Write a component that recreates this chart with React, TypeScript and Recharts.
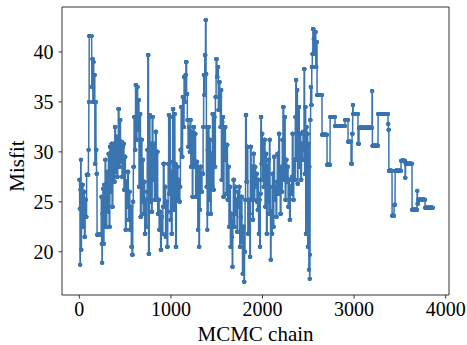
import { LineChart, Line, XAxis, YAxis, ReferenceArea } from 'recharts';

// accepted states of the chain: [iteration where the state starts, misfit]
const chainSteps: [number, number][] = [
  [0, 27.2], [4, 24.3], [8, 18.7], [12, 26.2], [16, 29.2], [20, 20.2], [24, 24.7], [28, 23.5],
  [32, 26.7], [40, 22.5], [48, 26.0], [56, 21.5], [64, 25.2], [72, 23.5], [80, 27.7],
  [100, 30.2], [104, 35.0], [108, 41.6], [136, 36.5], [142, 39.3], [148, 35.0],
  [152, 39.0], [158, 35.0], [164, 37.7], [170, 28.8], [176, 35.0], [182, 30.2], [188, 27.8], [194, 21.7],
  [240, 25.5], [244, 20.8], [248, 18.9],
  [252, 23.8], [258, 26.3], [264, 20.8], [270, 26.7], [276, 22.5],
  [282, 29.2], [288, 25.2], [294, 22.5], [300, 28.0], [306, 24.0], [312, 27.2],
  [318, 29.8], [326, 22.5], [334, 30.5], [342, 26.0], [350, 30.8], [358, 24.5], [366, 28.0],
  [372, 30.8], [380, 27.0], [388, 32.5], [396, 28.0], [404, 31.5], [412, 27.5], [420, 29.5],
  [426, 34.3], [434, 28.5], [442, 33.2], [450, 29.0], [458, 31.0], [466, 27.5], [474, 30.5],
  [480, 30.8], [488, 26.2], [496, 29.5], [504, 22.2], [512, 27.0], [520, 24.5], [528, 28.0],
  [536, 23.2], [544, 26.0], [552, 22.2], [560, 24.5], [568, 20.5], [576, 19.7], [584, 25.0],
  [590, 28.5], [598, 33.5], [606, 30.2], [614, 36.7], [622, 31.2], [630, 36.5], [638, 32.2],
  [644, 35.2], [652, 26.5], [660, 33.8], [668, 23.5], [676, 31.2], [684, 25.0],
  [690, 29.2], [698, 23.8], [706, 27.0], [714, 21.8], [722, 25.2], [730, 22.5], [738, 26.0],
  [742, 30.2], [748, 39.7], [756, 19.8], [764, 33.7], [772, 25.0],
  [780, 30.8], [788, 24.0], [796, 33.5], [804, 27.2], [812, 30.8], [820, 25.2], [826, 29.0],
  [832, 32.0], [840, 25.2], [848, 30.0], [856, 23.8],
  [864, 25.2], [872, 22.2], [880, 24.0], [888, 20.2], [896, 23.5], [904, 21.8], [912, 24.5],
  [918, 28.8], [926, 24.5], [934, 26.5], [942, 21.5], [950, 25.0], [958, 20.5], [966, 24.0],
  [970, 28.8], [976, 33.7], [982, 25.8], [988, 33.5], [994, 23.2], [1000, 28.0], [1006, 21.8],
  [1014, 29.0], [1020, 34.3], [1028, 24.2], [1036, 33.8], [1044, 28.8], [1052, 20.5], [1060, 27.0],
  [1068, 28.5], [1076, 25.2], [1084, 27.2], [1092, 25.0], [1098, 26.5],
  [1104, 30.2], [1112, 34.5], [1120, 29.5], [1128, 35.5], [1136, 32.5], [1144, 37.5], [1152, 35.0],
  [1158, 37.7], [1164, 39.0], [1172, 35.8], [1180, 33.2], [1188, 30.5], [1196, 32.5], [1204, 30.0],
  [1210, 33.2], [1218, 28.5], [1226, 32.0], [1234, 25.5], [1240, 29.0],
  [1246, 32.5], [1254, 28.5], [1262, 31.8], [1270, 25.5], [1278, 29.0],
  [1288, 26.5], [1294, 22.2], [1300, 28.5], [1306, 20.5], [1312, 24.2],
  [1320, 28.5], [1330, 26.0], [1340, 27.8],
  [1352, 32.5], [1358, 37.7], [1364, 35.7], [1370, 39.7], [1378, 43.2], [1384, 37.8],
  [1388, 26.5], [1392, 32.5], [1396, 22.2], [1400, 30.2], [1404, 23.8],
  [1408, 32.5], [1416, 25.2], [1424, 31.2], [1432, 23.8], [1440, 29.8], [1448, 26.5],
  [1454, 33.8], [1462, 26.2], [1470, 33.5], [1478, 28.5],
  [1486, 35.5], [1494, 39.3], [1502, 37.5], [1510, 38.5], [1518, 34.2], [1526, 37.0], [1534, 35.5],
  [1540, 32.5], [1546, 36.2], [1552, 27.2], [1558, 33.0],
  [1564, 33.5], [1572, 25.5], [1580, 30.5], [1588, 32.5], [1596, 29.2], [1604, 25.8], [1612, 30.7],
  [1618, 25.2], [1626, 28.5], [1634, 22.5], [1642, 26.5], [1650, 20.5], [1658, 23.8], [1664, 21.5],
  [1670, 18.5], [1676, 23.0],
  [1682, 27.2], [1690, 22.5], [1698, 26.5], [1706, 23.8], [1714, 25.2], [1722, 22.0], [1730, 26.0],
  [1736, 24.5], [1744, 26.5], [1752, 20.5], [1760, 23.5], [1768, 25.5], [1776, 21.0],
  [1782, 17.8], [1790, 22.5], [1798, 17.0], [1804, 20.0],
  [1810, 25.2], [1816, 33.7], [1824, 27.0], [1832, 30.5], [1840, 21.8], [1848, 25.2], [1856, 23.8], [1862, 19.5],
  [1868, 30.5], [1876, 25.2], [1884, 28.5], [1892, 23.2],
  [1900, 29.8], [1908, 25.2], [1916, 28.5], [1924, 26.5], [1932, 27.8], [1940, 25.0],
  [1946, 24.2], [1952, 27.2], [1958, 21.8], [1964, 25.2], [1970, 20.5],
  [1976, 25.8], [1982, 33.5], [1988, 28.8], [1994, 31.8], [2000, 27.2], [2006, 30.8],
  [2012, 26.5], [2020, 31.2], [2028, 24.5], [2036, 29.8], [2044, 21.8], [2052, 28.5], [2060, 25.0],
  [2064, 29.2], [2070, 23.8], [2076, 31.2], [2082, 26.5], [2088, 19.2], [2094, 24.0], [2100, 21.8],
  [2108, 27.8], [2116, 22.5], [2124, 29.5], [2132, 25.2], [2140, 26.5], [2148, 23.5], [2156, 27.0],
  [2162, 29.8], [2170, 25.8], [2178, 31.8], [2186, 27.2], [2194, 23.8], [2202, 28.5], [2210, 26.0],
  [2216, 31.2], [2224, 34.5], [2232, 27.2], [2240, 33.5], [2248, 25.2], [2256, 29.2], [2264, 27.0],
  [2272, 28.5], [2280, 24.5], [2288, 27.2], [2296, 23.2], [2304, 26.5], [2312, 25.8], [2320, 27.5],
  [2326, 31.8], [2334, 25.2], [2342, 29.2], [2350, 27.2],
  [2358, 33.5], [2364, 37.2], [2370, 29.2], [2376, 36.2], [2382, 26.8], [2388, 31.8],
  [2394, 34.5], [2402, 28.5], [2410, 31.8], [2418, 27.2], [2426, 30.8], [2434, 29.2], [2442, 32.0],
  [2448, 30.2], [2454, 38.3], [2460, 27.8], [2466, 34.5], [2472, 21.8], [2478, 32.5], [2484, 25.2],
  [2488, 31.8], [2494, 20.5], [2500, 30.8], [2506, 18.2], [2510, 28.5], [2514, 17.3], [2518, 19.7],
  [2520, 33.2], [2526, 36.5], [2532, 34.7], [2538, 38.5], [2544, 39.8],
  [2550, 42.3], [2558, 41.3], [2566, 39.8], [2574, 42.0], [2582, 38.5], [2590, 41.0],
  [2596, 35.7], [2650, 31.7], [2705, 28.7], [2738, 33.5], [2792, 32.6], [2901, 33.2],
  [2934, 31.0], [2967, 28.8], [2978, 31.8], [2985, 34.7], [2990, 33.8], [3043, 30.8],
  [3054, 32.4], [3196, 36.1], [3200, 30.6], [3262, 33.8], [3371, 32.8], [3375, 32.2],
  [3380, 28.1], [3415, 23.6], [3437, 24.7], [3448, 28.1], [3513, 29.1], [3557, 27.4],
  [3562, 28.8], [3633, 24.2], [3688, 26.1], [3692, 24.8], [3699, 25.2], [3775, 24.4],
];
const lastIteration = 3860;

const xTicks = [0, 1000, 2000, 3000, 4000];
const yTicks = [20, 25, 30, 35, 40];
const xDomain: [number, number] = [-189, 4036];
const yDomain: [number, number] = [15.67, 44.5];

// every sample of the chain keeps the current state until the next accepted one
const chainData: { it: number; misfit: number }[] = [];
chainSteps.forEach(([start, misfit], k) => {
  const end = k + 1 < chainSteps.length ? chainSteps[k + 1][0] : lastIteration + 1;
  for (let it = start; it < end; it++) chainData.push({ it, misfit });
});

const FONT = '"Liberation Serif", "DejaVu Serif", serif';
const BLUE = '#3a75b0';
const AXIS = '#333';

export default function App() {
  const tickStyle = { fill: '#000', fontSize: 20, fontFamily: FONT };
  return (
    <div style={{ position: 'absolute', left: 0, top: 0, width: 467, height: 345, background: '#fff' }}>
      <LineChart
        width={467}
        height={345}
        data={chainData}
        margin={{ top: 7, right: 18, bottom: 0, left: 0 }}
      >
        <XAxis
          dataKey="it"
          type="number"
          domain={xDomain}
          ticks={xTicks}
          allowDataOverflow
          height={50}
          axisLine={false}
          tickSize={3.5}
          tickMargin={3}
          tickLine={{ stroke: AXIS }}
          tick={tickStyle}
          label={{
            content: ({ viewBox }: any) => (
              <text
                x={viewBox.x + viewBox.width / 2}
                y={viewBox.y + 46}
                textAnchor="middle"
                fontSize={21}
                fontFamily={FONT}
                fill="#000"
              >
                MCMC chain
              </text>
            ),
          }}
        />
        <YAxis
          type="number"
          domain={yDomain}
          ticks={yTicks}
          allowDataOverflow
          width={62}
          axisLine={false}
          tickSize={3.5}
          tickMargin={5}
          tickLine={{ stroke: AXIS }}
          tick={tickStyle}
          label={{
            content: () => (
              <text
                x={24}
                y={166}
                transform="rotate(-90 24 166)"
                textAnchor="middle"
                fontSize={21}
                fontFamily={FONT}
                fill="#000"
              >
                Misfit
              </text>
            ),
          }}
        />
        <ReferenceArea
          x1={xDomain[0]}
          x2={xDomain[1]}
          y1={yDomain[0]}
          y2={yDomain[1]}
          fill="none"
          stroke={AXIS}
          strokeWidth={1}
          ifOverflow="visible"
        />
        <Line
          type="linear"
          dataKey="misfit"
          stroke={BLUE}
          strokeWidth={1.5}
          dot={{ r: 2, fill: BLUE, stroke: 'none' }}
          activeDot={false}
          isAnimationActive={false}
        />
      </LineChart>
    </div>
  );
}
